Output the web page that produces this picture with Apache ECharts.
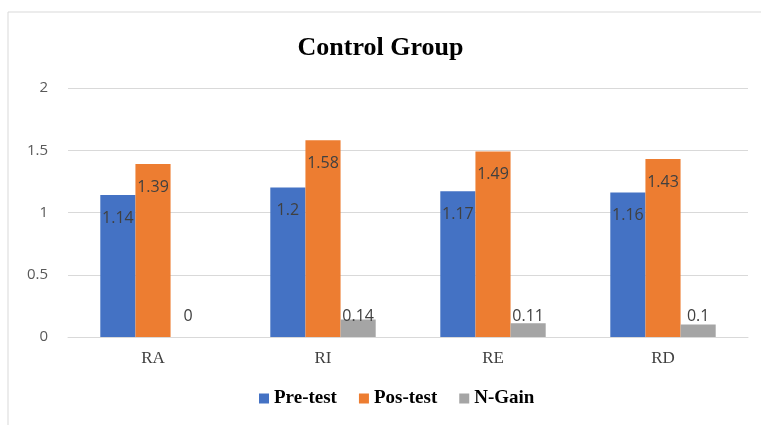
<!DOCTYPE html>
<html><head><meta charset="utf-8">
<script src="https://cdn.jsdelivr.net/npm/echarts@6/dist/echarts.min.js"></script>
<style>html,body{margin:0;padding:0;background:#fff}#c{width:761px;height:425px}</style>
</head><body><div id="c"></div>
<script>
const categories = ['RA', 'RI', 'RE', 'RD'];
const preTest = [1.14, 1.2, 1.17, 1.16];
const posTest = [1.39, 1.58, 1.49, 1.43];
const nGain = [0, 0.14, 0.11, 0.1];
const seriesNames = ['Pre-test', 'Pos-test', 'N-Gain'];
const colors = ['#4472C4', '#ED7D31', '#A5A5A5'];

const chart = echarts.init(document.getElementById('c'), null, {renderer: 'canvas'});
const labelBase = {show: true, color: '#404040', fontFamily: 'Open Sans, Noto Sans, sans-serif', fontSize: 16};
chart.setOption({
  animation: false,
  graphic: [{type: 'rect', shape: {x: 8, y: 12, width: 800, height: 500}, style: {fill: 'none', stroke: '#D9D9D9', lineWidth: 1}, silent: true}],
  title: {text: 'Control Group', left: 'center', top: 30, textStyle: {fontFamily: 'Liberation Serif, Times New Roman, serif', fontWeight: 'bold', fontSize: 26, color: '#000'}},
  legend: {data: seriesNames, bottom: 12, left: 254, itemWidth: 10, itemHeight: 10, itemGap: 22, icon: 'rect',
    textStyle: {fontFamily: 'Liberation Serif, Times New Roman, serif', fontWeight: 'bold', fontSize: 19, color: '#000'}},
  grid: {left: 68, right: 13, top: 88, bottom: 88},
  xAxis: {type: 'category', data: categories,
    axisLine: {lineStyle: {color: '#D9D9D9'}}, axisTick: {show: false},
    axisLabel: {fontFamily: 'Liberation Serif, Times New Roman, serif', fontSize: 17, color: '#404040', margin: 13}},
  yAxis: {type: 'value', min: 0, max: 2, interval: 0.5,
    axisLine: {show: false}, axisTick: {show: false},
    splitLine: {lineStyle: {color: '#D9D9D9'}},
    axisLabel: {fontFamily: 'Open Sans, Noto Sans, sans-serif', fontSize: 15, color: '#595959', margin: 20}},
  series: [
    {name: seriesNames[0], type: 'bar', data: preTest, barGap: '0%', barCategoryGap: '38%', itemStyle: {color: colors[0]},
      label: Object.assign({position: 'insideTop', distance: 15}, labelBase)},
    {name: seriesNames[1], type: 'bar', data: posTest, itemStyle: {color: colors[1]},
      label: Object.assign({position: 'insideTop', distance: 15}, labelBase)},
    {name: seriesNames[2], type: 'bar', data: nGain, itemStyle: {color: colors[2]},
      label: Object.assign({position: 'insideBottom', distance: 13}, labelBase)}
  ]
});
</script></body></html>
